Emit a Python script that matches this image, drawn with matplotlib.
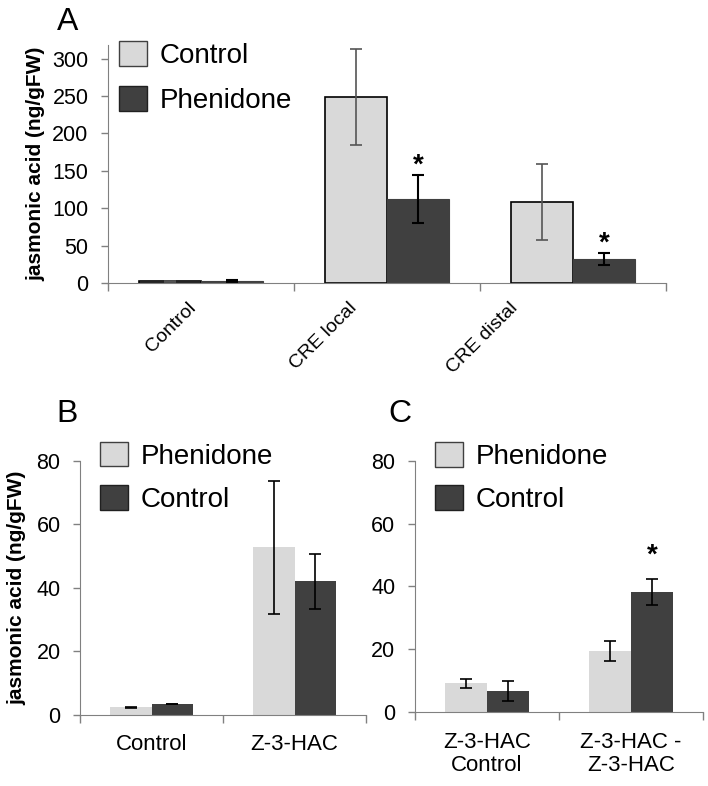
import matplotlib
matplotlib.use("Agg")
import matplotlib.pyplot as plt
from matplotlib.patches import Patch
import numpy as np

plt.rcParams['font.family'] = ['Liberation Sans', 'DejaVu Sans']

# Panel A
a_cats = ["Control", "CRE local", "CRE distal"]
a_control = [2.0, 249, 108]
a_control_err = [1.0, 64, 51]
a_phen = [2.5, 112, 32]
a_phen_err = [1.0, 32, 8]
a_sig = [False, True, True]

# Panel B
b_cats = ["Control", "Z-3-HAC"]
b_phen = [2.4, 52.7]
b_phen_err = [0.2, 20.8]
b_ctrl = [3.5, 42.0]
b_ctrl_err = [0.1, 8.8]

# Panel C
c_cats = ["Z-3-HAC\nControl", "Z-3-HAC -\nZ-3-HAC"]
c_phen = [9.2, 19.5]
c_phen_err = [1.5, 3.3]
c_ctrl = [6.8, 38.3]
c_ctrl_err = [3.1, 4.2]
c_sig = [False, True]

LIGHT = '#d9d9d9'
DARK = '#404040'
SPINE = '#808080'

fig = plt.figure(figsize=(7.08, 7.86), dpi=100)

def style_axes(ax, n, ymax, yticks):
    ax.set_xlim(0, n)
    ax.set_ylim(0, ymax)
    ax.set_yticks(yticks)
    for s in ['top', 'right']:
        ax.spines[s].set_visible(False)
    ax.spines['left'].set_color(SPINE)
    ax.spines['bottom'].set_color(SPINE)
    ax.tick_params(axis='y', colors='black', labelsize=15.5, length=5, color=SPINE, width=1, pad=9)
    ax.set_xticks(np.arange(n + 1), minor=False)
    ax.set_xticklabels([])
    ax.tick_params(axis='x', length=6, color=SPINE, width=1, direction='out')
    ax.tick_params(axis='x', which='minor', length=0, pad=14)

def legend(ax, labels, anchor, spacing):
    ax.legend(handles=[Patch(facecolor=LIGHT, edgecolor='#404040', label=labels[0]),
                       Patch(facecolor=DARK, edgecolor='#202020', label=labels[1])],
              loc='upper left', bbox_to_anchor=anchor, frameon=False, fontsize=20,
              handlelength=1.0, handleheight=1.0, handletextpad=0.45, labelspacing=spacing,
              borderpad=0.0, borderaxespad=0.0)

# ---------- Panel A ----------
axA = fig.add_axes([0.1525, 0.640, 0.7882, 0.3027])
xa = np.arange(len(a_cats)) + 0.5
w = 0.333
axA.bar(xa - w / 2, a_control, w, color=LIGHT, edgecolor='black', linewidth=1.2,
        yerr=a_control_err, error_kw=dict(ecolor='#555555', capsize=4, elinewidth=1.2, capthick=1.2))
axA.bar(xa + w / 2, a_phen, w, color=DARK, edgecolor=DARK, linewidth=0.8,
        yerr=a_phen_err, error_kw=dict(ecolor='black', capsize=4, elinewidth=1.5, capthick=1.5))
for i, s in enumerate(a_sig):
    if s:
        axA.text(xa[i] + w / 2, a_phen[i] + a_phen_err[i] - 5, '*', ha='center', va='bottom',
                 fontsize=20, fontweight='bold')
style_axes(axA, 3, 318, [0, 50, 100, 150, 200, 250, 300])
axA.set_xticks(xa + np.array([-0.075, -0.21, -0.345]), minor=True)
axA.set_xticklabels(a_cats, minor=True, rotation=45, ha='right', rotation_mode='anchor',
                    fontsize=14)
axA.tick_params(axis='x', which='minor', pad=12)
axA.set_ylabel('jasmonic acid (ng/gFW)', fontsize=15, fontweight='bold', labelpad=5)
legend(axA, ['Control', 'Phenidone'], (0.02, 1.017), 0.62)
fig.text(0.080, 0.972, 'A', fontsize=23, ha='left', va='center')

# ---------- Panel B ----------
axB = fig.add_axes([0.113, 0.0903, 0.404, 0.3236])
xb = np.arange(len(b_cats)) + 0.5
wb = 0.293
axB.bar(xb - wb / 2, b_phen, wb, color=LIGHT,
        yerr=b_phen_err, error_kw=dict(ecolor='black', capsize=4, elinewidth=1.2, capthick=1.2))
axB.bar(xb + wb / 2, b_ctrl, wb, color=DARK,
        yerr=b_ctrl_err, error_kw=dict(ecolor='black', capsize=4, elinewidth=1.2, capthick=1.2))
style_axes(axB, 2, 80, [0, 20, 40, 60, 80])
axB.set_xticks(xb, minor=True)
axB.set_xticklabels(b_cats, minor=True, fontsize=16)
axB.set_ylabel('jasmonic acid (ng/gFW)', fontsize=15, fontweight='bold', labelpad=7)
legend(axB, ['Phenidone', 'Control'], (0.07, 1.075), 0.55)
fig.text(0.080, 0.473, 'B', fontsize=23, ha='left', va='center')

# ---------- Panel C ----------
axC = fig.add_axes([0.586, 0.0938, 0.407, 0.3201])
xc = np.arange(len(c_cats)) + 0.5
axC.bar(xc - wb / 2, c_phen, wb, color=LIGHT,
        yerr=c_phen_err, error_kw=dict(ecolor='black', capsize=4, elinewidth=1.2, capthick=1.2))
axC.bar(xc + wb / 2, c_ctrl, wb, color=DARK,
        yerr=c_ctrl_err, error_kw=dict(ecolor='black', capsize=4, elinewidth=1.2, capthick=1.2))
for i, s in enumerate(c_sig):
    if s:
        axC.text(xc[i] + wb / 2, c_ctrl[i] + c_ctrl_err[i] + 3.2, '*', ha='center', va='bottom',
                 fontsize=20, fontweight='bold')
style_axes(axC, 2, 80, [0, 20, 40, 60, 80])
axC.set_xticks(xc, minor=True)
axC.set_xticklabels(c_cats, minor=True, fontsize=16, linespacing=1.15)
legend(axC, ['Phenidone', 'Control'], (0.07, 1.075), 0.55)
fig.text(0.549, 0.473, 'C', fontsize=23, ha='left', va='center')

fig.savefig('out.png', dpi=100)
